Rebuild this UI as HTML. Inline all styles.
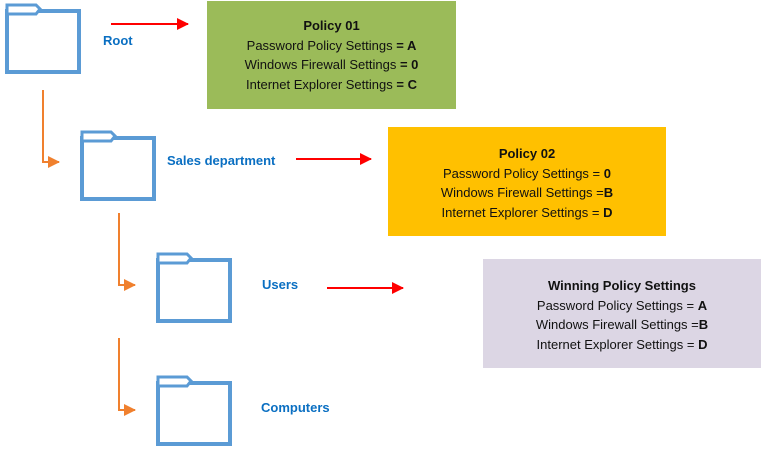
<!DOCTYPE html>
<html><head><style>
body{margin:0;width:761px;height:449px;background:#fff;position:relative;overflow:hidden;font-family:"Liberation Sans",sans-serif}
.box{position:absolute;text-align:center;font-size:13px;color:#111;line-height:19.5px;box-sizing:border-box}
.lbl{position:absolute;color:#0a6fc2;font-weight:bold;font-size:13px}
</style></head><body>
<svg width="761" height="449" style="position:absolute;left:0;top:0">
<defs>
<marker id="r" markerWidth="12" markerHeight="12" refX="11" refY="6" orient="auto" markerUnits="userSpaceOnUse"><path d="M0,0 L12,6 L0,12z" fill="#f00"/></marker>
<marker id="o" markerWidth="12" markerHeight="12" refX="11" refY="6" orient="auto" markerUnits="userSpaceOnUse"><path d="M0,0 L12,6 L0,12z" fill="#f0802e"/></marker>
<g id="f" fill="none" stroke="#5b9bd5">
<rect x="2" y="8" width="72" height="61" stroke-width="4"/>
<path d="M2,2 H31 L35,6 L31,11 H2 Z" stroke-width="3" fill="#fff"/>
</g>
</defs>
<use href="#f" x="5" y="3"/>
<use href="#f" x="80" y="130"/>
<use href="#f" x="156" y="252"/>
<use href="#f" x="156" y="375"/>
<g stroke="#f0802e" stroke-width="2" fill="none">
<path d="M43,90 V162 H59" marker-end="url(#o)"/>
<path d="M119,213 V285 H135" marker-end="url(#o)"/>
<path d="M119,338 V410 H135" marker-end="url(#o)"/>
</g>
<g stroke="#f00" stroke-width="2">
<line x1="111" y1="24" x2="188" y2="24" marker-end="url(#r)"/>
<line x1="296" y1="159" x2="371" y2="159" marker-end="url(#r)"/>
<line x1="327" y1="288" x2="403" y2="288" marker-end="url(#r)"/>
</g>
</svg>
<div class="lbl" style="left:103px;top:33px">Root</div>
<div class="lbl" style="left:167px;top:153px">Sales department</div>
<div class="lbl" style="left:262px;top:277px">Users</div>
<div class="lbl" style="left:261px;top:400px">Computers</div>
<div class="box" style="left:207px;top:1px;width:249px;height:108px;background:#9bbb59;padding-top:15px"><b>Policy 01</b><br>Password Policy Settings <b>= A</b><br>Windows Firewall Settings <b>= 0</b><br>Internet Explorer Settings <b>= C</b></div>
<div class="box" style="left:388px;top:127px;width:278px;height:109px;background:#ffc000;padding-top:17px"><b>Policy 02</b><br>Password Policy Settings = <b>0</b><br>Windows Firewall Settings =<b>B</b><br>Internet Explorer Settings = <b>D</b></div>
<div class="box" style="left:483px;top:259px;width:278px;height:109px;background:#dcd6e4;padding-top:17px"><b>Winning Policy Settings</b><br>Password Policy Settings = <b>A</b><br>Windows Firewall Settings =<b>B</b><br>Internet Explorer Settings = <b>D</b></div>
</body></html>
